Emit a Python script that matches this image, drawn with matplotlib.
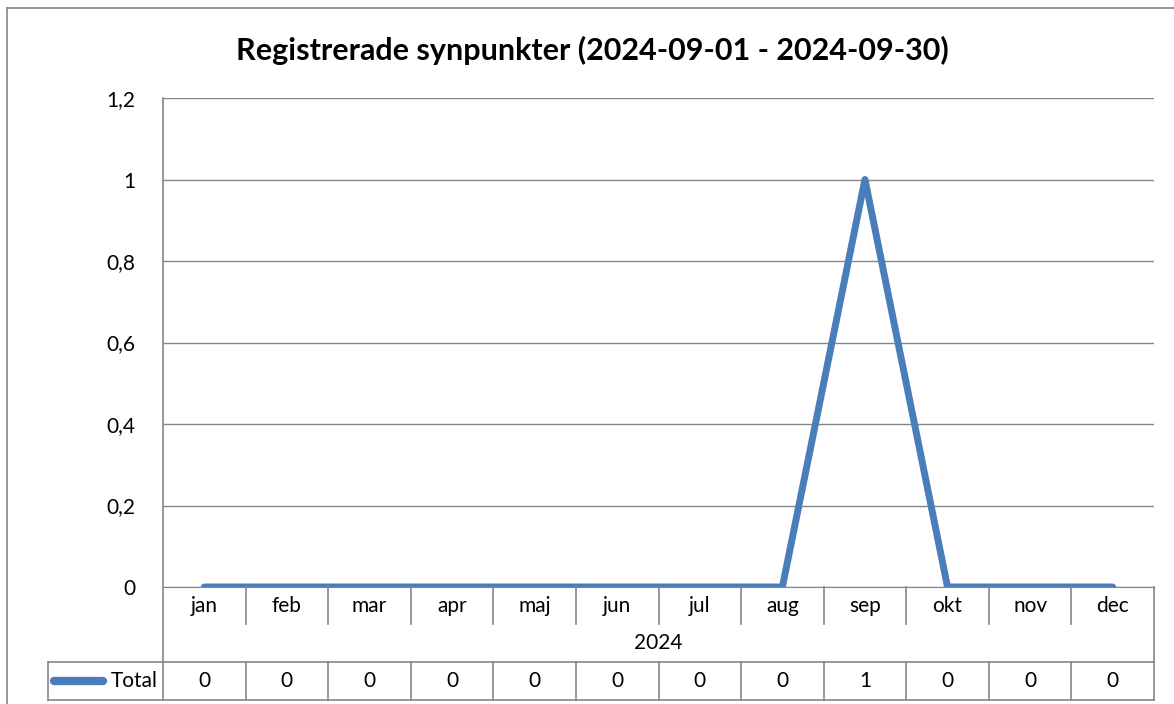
import matplotlib
matplotlib.use("Agg")
import matplotlib.pyplot as plt
from matplotlib.lines import Line2D
import matplotlib.transforms as mtransforms

months = ["jan", "feb", "mar", "apr", "maj", "jun", "jul", "aug", "sep", "okt", "nov", "dec"]
totals = [0, 0, 0, 0, 0, 0, 0, 0, 1, 0, 0, 0]
year = "2024"
series_name = "Total"
title = "Registrerade synpunkter (2024-09-01 - 2024-09-30)"
yticks = [0, 0.2, 0.4, 0.6, 0.8, 1.0, 1.2]

W, H = 1174, 704
plt.rcParams['font.family'] = ['Lato', 'DejaVu Sans']
line_col = "#4a7ebb"
grid_col = "#868686"
fs = 15

fig = plt.figure(figsize=(W / 100, H / 100), dpi=100)

def fx(px):
    return px / W

def fy(py):
    return 1 - py / H

left, right, top, bottom = 163, 1154, 98, 587
ax = fig.add_axes([fx(left), fy(bottom), fx(right) - fx(left), fy(top) - fy(bottom)])
x = list(range(len(months)))
ax.plot(x, totals, color=line_col, lw=5, solid_capstyle="round", solid_joinstyle="round", zorder=3)
ax.set_xlim(-0.5, len(months) - 0.5)
ax.set_ylim(0, 1.2)
ax.set_yticks(yticks)
ax.set_yticklabels([("%g" % v).replace(".", ",") for v in yticks], fontsize=fs)
ax.tick_params(axis="y", length=0, pad=20)
ax.set_xticks([])
ax.grid(axis="y", color=grid_col, lw=1)
for s in ["top", "right", "left"]:
    ax.spines[s].set_visible(False)
ax.spines["bottom"].set_color(grid_col)
ax.set_axisbelow(True)

# blended: x in data, y in figure
tr = mtransforms.blended_transform_factory(ax.transData, fig.transFigure)

def fline(xs, ys, **kw):
    kw.setdefault("color", grid_col)
    kw.setdefault("lw", 1.2)
    fig.add_artist(Line2D(xs, ys, transform=fig.transFigure, **kw))

# outer chart border
fline([fx(7), fx(7)], [fy(8), 0])
fline([fx(7), 1], [fy(8), fy(8)])

# axis line continuing down through table
fline([fx(left), fx(left)], [fy(top), fy(700)])
fline([fx(right), fx(right)], [fy(bottom), fy(700)])

# category separators and labels
row1, row2, row3, row4 = 587, 624, 662, 700
for i in range(1, len(months)):
    fig.add_artist(Line2D([i - 0.5, i - 0.5], [fy(row1), fy(row2)], transform=tr, color=grid_col, lw=1.2))
    fig.add_artist(Line2D([i - 0.5, i - 0.5], [fy(row3), fy(row4)], transform=tr, color=grid_col, lw=1.2))
for i, m in enumerate(months):
    fig.text(i, fy((row1 + row2) / 2), m, transform=tr, ha="center", va="center", fontsize=fs)
    fig.text(i, fy((row3 + row4) / 2), str(totals[i]), transform=tr, ha="center", va="center", fontsize=fs)

fig.text(fx((left + right) / 2), fy((row2 + row3) / 2), year, ha="center", va="center", fontsize=fs)

# table frame
fline([fx(48), fx(right)], [fy(row3), fy(row3)])
fline([fx(48), fx(right)], [fy(row4), fy(row4)])
fline([fx(48), fx(48)], [fy(row3), fy(row4)])

# legend key
fline([fx(54), fx(103)], [fy(681), fy(681)], color=line_col, lw=6, solid_capstyle="round")
fig.text(fx(158), fy(681), series_name, ha="right", va="center", fontsize=fs)

fig.text(fx(592), fy(50), title, ha="center", va="center", fontsize=22, fontweight="bold")

fig.savefig("out.png", dpi=100)
